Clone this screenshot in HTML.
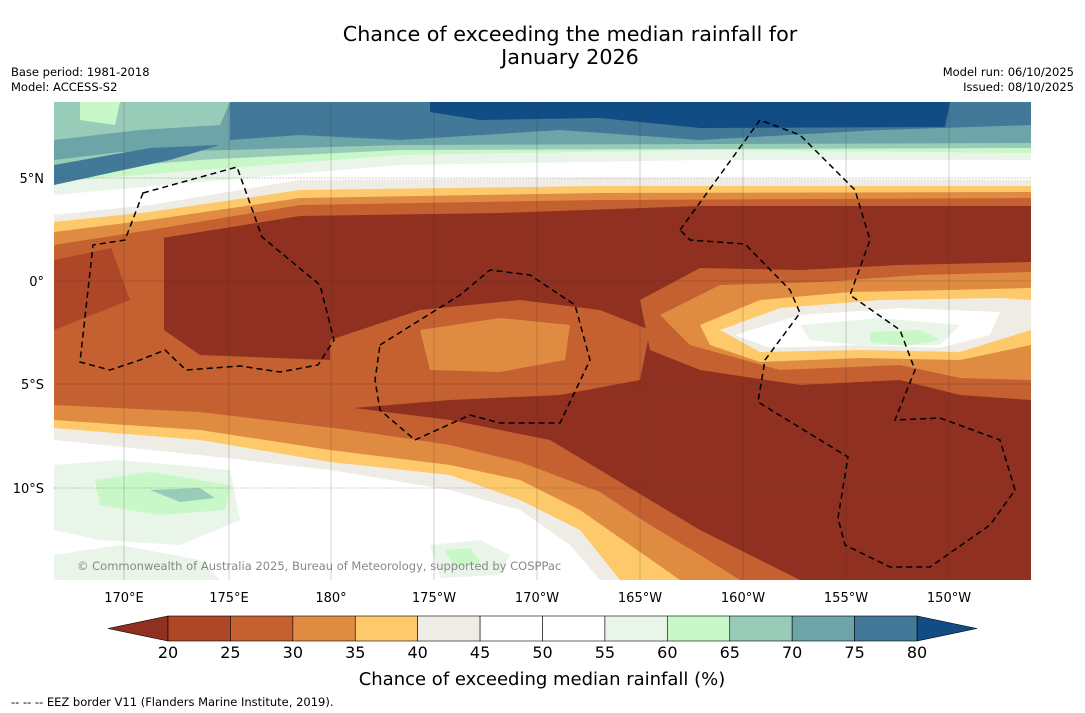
<!DOCTYPE html>
<html><head><meta charset="utf-8"><style>
body{margin:0;background:#fff;width:1085px;height:713px;overflow:hidden;font-family:"DejaVu Sans","Liberation Sans",sans-serif}
svg{display:block}
</style></head><body>
<svg width="1085" height="713" font-family="DejaVu Sans, Liberation Sans, sans-serif">
<text x="570" y="41" font-size="20.7" text-anchor="middle">Chance of exceeding the median rainfall for</text>
<text x="570" y="64" font-size="20.7" text-anchor="middle">January 2026</text>
<text x="11" y="76" font-size="11.5">Base period: 1981-2018</text>
<text x="11" y="91" font-size="11.5">Model: ACCESS-S2</text>
<text x="1074" y="76" font-size="11.5" text-anchor="end">Model run: 06/10/2025</text>
<text x="1074" y="91" font-size="11.5" text-anchor="end">Issued: 08/10/2025</text>
<defs><clipPath id="mc"><rect x="54" y="102" width="977" height="478"/></clipPath></defs>
<g clip-path="url(#mc)">
<rect x="54" y="102" width="977" height="478" fill="#8f3020"/>
<path d="M54,230 L164,220 L164,330 L200,355 L330,360 L330,420 L54,420Z" fill="#c56030"/>
<path d="M54,250 L110,245 L130,300 L54,330Z" fill="#ae4628"/>
<path d="M330,340 L420,310 L520,300 L600,310 L650,330 L640,380 L560,395 L450,400 L330,410Z" fill="#c56030"/>
<path d="M420,330 L500,318 L570,325 L565,360 L500,372 L430,370Z" fill="#df8c42"/>
<path d="M54,360 L200,375 L330,380 L330,420 L54,420Z" fill="#c56030"/>
<path d="M54,102 L1031,102 L1031,206 L700,206 L500,213 L300,216 L150,240 L54,260Z" fill="#c56030"/>
<path d="M54,102 L1031,102 L1031,198 L600,200 L300,205 L150,230 L54,245Z" fill="#df8c42"/>
<path d="M54,102 L1031,102 L1031,192 L600,193 L300,198 L150,220 L54,232Z" fill="#fdc96a"/>
<path d="M54,102 L1031,102 L1031,186 L600,186 L300,190 L150,212 L54,222Z" fill="#efece6"/>
<path d="M54,102 L1031,102 L1031,180 L600,178 L300,180 L150,205 L54,215Z" fill="#ffffff"/>
<path d="M54,102 L1031,102 L1031,160 L700,160 L400,165 L200,182 L54,195Z" fill="#e8f5e8"/>
<path d="M54,102 L1031,102 L1031,153 L700,150 L400,155 L200,170 L54,182Z" fill="#c8f8c8"/>
<path d="M54,102 L1031,102 L1031,148 L400,150 L200,160 L54,172Z" fill="#98ccb8"/>
<path d="M54,102 L1031,102 L1031,143 L400,145 L230,150 L120,152 L54,160Z" fill="#6ca4a8"/>
<path d="M230,102 L1031,102 L1031,125 L880,130 L700,140 L560,130 L400,140 L300,135 L230,140Z" fill="#427898"/>
<path d="M54,165 L150,148 L220,145 L170,160 L54,185Z" fill="#427898"/>
<path d="M54,102 L230,102 L220,125 L140,130 L54,140Z" fill="#98ccb8"/>
<path d="M80,102 L120,102 L115,125 L80,120Z" fill="#c8f8c8"/>
<path d="M430,102 L950,102 L945,127 L700,128 L600,118 L480,120 L430,112Z" fill="#124c84"/>
<path d="M640,300 L700,268 L800,270 L900,265 L1031,262 L1031,400 L960,395 L900,380 L800,385 L700,370 L650,350Z" fill="#c56030"/>
<path d="M660,315 L720,285 L820,282 L920,275 L1031,272 L1031,380 L960,378 L900,365 L780,370 L690,345Z" fill="#df8c42"/>
<path d="M700,325 L760,300 L850,292 L950,290 L1031,288 L1031,345 L960,360 L860,358 L760,362 L710,345Z" fill="#fdc96a"/>
<path d="M720,330 L780,308 L880,300 L1000,298 L1031,300 L1031,330 L960,352 L860,350 L760,352Z" fill="#efece6"/>
<path d="M735,335 L800,315 L900,308 L1000,312 L990,335 L940,348 L860,345 L770,348Z" fill="#ffffff"/>
<path d="M800,325 L880,318 L960,325 L940,345 L860,345 L810,340Z" fill="#e8f5e8"/>
<path d="M870,332 L920,330 L940,340 L905,346 L870,342Z" fill="#c8f8c8"/>
<path d="M54,395 L200,400 L330,405 L450,420 L550,440 L600,470 L650,500 L700,530 L760,560 L800,580 L54,580Z" fill="#c56030"/>
<path d="M54,405 L200,412 L350,430 L450,445 L520,462 L600,492 L650,525 L700,555 L740,580 L54,580Z" fill="#df8c42"/>
<path d="M54,420 L200,430 L330,450 L450,465 L520,480 L580,510 L630,545 L680,580 L54,580Z" fill="#fdc96a"/>
<path d="M54,428 L200,440 L330,462 L450,475 L520,500 L580,530 L620,580 L54,580Z" fill="#efece6"/>
<path d="M54,440 L200,455 L330,470 L450,490 L520,510 L570,545 L600,580 L54,580Z" fill="#ffffff"/>
<path d="M54,465 L120,460 L230,470 L240,520 L180,545 L100,540 L54,530Z" fill="#e8f5e8"/>
<path d="M95,480 L150,472 L230,485 L225,510 L160,515 L100,505Z" fill="#c8f8c8"/>
<path d="M150,490 L200,488 L215,498 L180,502Z" fill="#98ccb8"/>
<path d="M54,555 L120,545 L200,560 L220,580 L54,580Z" fill="#e8f5e8"/>
<path d="M430,545 L480,540 L510,555 L500,575 L440,578Z" fill="#e8f5e8"/>
<path d="M445,550 L470,548 L480,562 L455,568Z" fill="#c8f8c8"/>
<g stroke="#333" stroke-width="0.5" opacity="0.45">
<line x1="124" y1="102" x2="124" y2="580"/><line x1="229" y1="102" x2="229" y2="580"/><line x1="331" y1="102" x2="331" y2="580"/><line x1="434" y1="102" x2="434" y2="580"/><line x1="537" y1="102" x2="537" y2="580"/><line x1="640" y1="102" x2="640" y2="580"/><line x1="743" y1="102" x2="743" y2="580"/><line x1="846" y1="102" x2="846" y2="580"/><line x1="949" y1="102" x2="949" y2="580"/>
<line x1="54" y1="178" x2="1031" y2="178" stroke-dasharray="2,1"/><line x1="54" y1="281" x2="1031" y2="281"/><line x1="54" y1="384" x2="1031" y2="384"/><line x1="54" y1="488" x2="1031" y2="488" stroke-dasharray="2,1"/>
</g>
<g fill="none" stroke="#000" stroke-width="1.5" stroke-dasharray="6,4">
<path d="M143,193 L237,167 L262,237 L320,285 L334,340 L318,365 L280,372 L240,366 L186,370 L165,350 L140,360 L110,370 L80,362 L93,245 L125,240 Z"/>
<path d="M380,345 L460,295 L490,270 L530,275 L575,305 L590,360 L560,423 L500,423 L470,415 L415,440 L380,410 L375,380 Z"/>
<path d="M680,230 L760,120 L800,135 L855,190 L870,240 L850,295 L900,330 L915,370 L895,420 L940,418 L1000,440 L1015,490 L990,525 L930,567 L890,567 L845,545 L838,518 L848,457 L758,402 L765,360 L800,313 L790,290 L745,244 L690,240 Z"/>
</g>
<text x="77" y="570" font-size="11.5" fill="#888">© Commonwealth of Australia 2025, Bureau of Meteorology, supported by COSPPac</text>
</g>
<g font-size="13" text-anchor="middle">
<text x="124" y="602">170°E</text><text x="229" y="602">175°E</text><text x="331" y="602">180°</text><text x="434" y="602">175°W</text><text x="537" y="602">170°W</text><text x="640" y="602">165°W</text><text x="743" y="602">160°W</text><text x="846" y="602">155°W</text><text x="949" y="602">150°W</text>
</g>
<g font-size="13" text-anchor="end">
<text x="44" y="183">5°N</text><text x="44" y="286">0°</text><text x="44" y="389">5°S</text><text x="44" y="493">10°S</text>
</g>
<g id="cbar"></g>
<text x="542" y="685" font-size="18" text-anchor="middle">Chance of exceeding median rainfall (%)</text>
<text x="11" y="706" font-size="11.5">--  --  -- EEZ border V11 (Flanders Marine Institute, 2019).</text>
</svg>
<script>
const levels=[20,25,30,35,40,45,50,55,60,65,70,75,80];
const binColors=["#ae4628","#c56030","#df8c42","#fdc96a","#efece6","#ffffff","#ffffff","#e8f5e8","#c8f8c8","#98ccb8","#6ca4a8","#427898"];
const underColor="#8f3020", overColor="#124c84";
const NS="http://www.w3.org/2000/svg";
const g=document.getElementById('cbar');
const x0=168,x1=917,y0=616,h=25;
const sx=v=>x0+(v-levels[0])/(levels[levels.length-1]-levels[0])*(x1-x0);
function mk(t,a){const e=document.createElementNS(NS,t);for(const k in a)e.setAttribute(k,a[k]);g.appendChild(e);return e;}
let tri=mk('polygon',{points:`108,${y0+h/2} ${x0},${y0} ${x0},${y0+h}`,fill:underColor,stroke:'#000','stroke-width':0.6});


let tri2=mk('polygon',{points:`977,${y0+h/2} ${x1},${y0} ${x1},${y0+h}`,fill:overColor,stroke:'#000','stroke-width':0.6});


binColors.forEach((c,i)=>{
 const r=mk('rect',{x:sx(levels[i]),y:y0,width:sx(levels[i+1])-sx(levels[i]),height:h,fill:c,stroke:'#000','stroke-width':0.6});
 
 
});
levels.forEach(v=>{
 const t=mk('text',{x:sx(v),y:658,'font-size':16,'text-anchor':'middle'});
 t.textContent=v;
 
 
});
</script>
</body></html>
